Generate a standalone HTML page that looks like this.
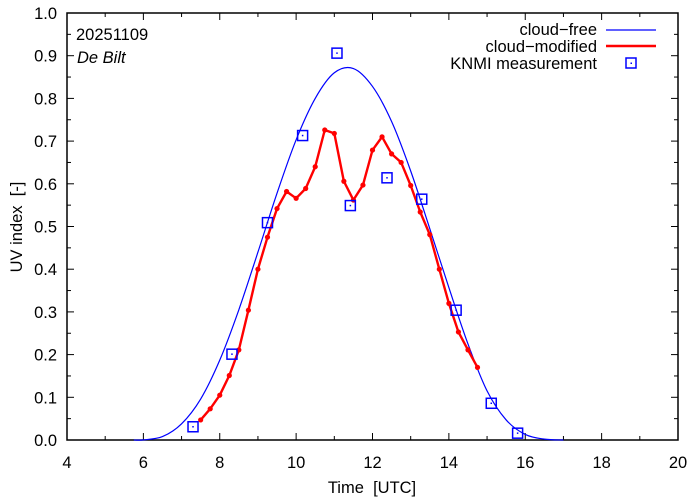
<!DOCTYPE html>
<html><head><meta charset="utf-8"><style>
body{margin:0;background:#fff}
svg{display:block;font-family:"Liberation Sans",Arial,sans-serif}
text{white-space:pre}
</style></head><body>
<svg id="chart" width="694" height="501" viewBox="0 0 694 501" xmlns="http://www.w3.org/2000/svg">
<rect width="694" height="501" fill="#fff"/>
<g id="axes"></g>
<g id="series"></g>
<text x="76" y="40" font-size="16.5">20251109</text>
<text x="77" y="63" font-size="16.5" font-style="italic">De Bilt</text>
<g font-size="16.5" text-anchor="end">
<text x="597" y="35">cloud−free</text>
<line x1="606" y1="30" x2="656" y2="30" stroke="#0000ff" stroke-width="1.2"/>
<text x="597" y="52">cloud−modified</text>
<line x1="606" y1="46" x2="656" y2="46" stroke="#ff0000" stroke-width="2.4"/>
<text x="597" y="69">KNMI measurement</text>
<rect x="626" y="58" width="10" height="10" fill="none" stroke="#0000ff" stroke-width="1.5"/>
<rect x="630.5" y="62.5" width="1.5" height="1.5" fill="#0000ff"/>
</g>
<text x="372" y="493" font-size="16.5" text-anchor="middle">Time  [UTC]</text>
<text transform="translate(22,227) rotate(-90)" font-size="16.5" text-anchor="middle">UV index  [-]</text>
</svg>
<script>
const xTicks=[4,6,8,10,12,14,16,18,20];
const yTicks=[0,0.1,0.2,0.3,0.4,0.5,0.6,0.7,0.8,0.9,1.0];
const clearTimes=[5.75,6,6.5,7,7.5,8,8.5,9,9.5,10,10.5,11,11.5,12,12.5,13,13.5,14,14.5,15,15.5,16,16.5,17];
const clearValues=[0,0.0003,0.008,0.038,0.096,0.187,0.305,0.44,0.578,0.703,0.80,0.86,0.87,0.828,0.746,0.63,0.495,0.357,0.225,0.115,0.047,0.013,0.002,0];
const cloudTimes=[7.5,7.75,8,8.25,8.5,8.75,9,9.25,9.5,9.75,10,10.25,10.5,10.75,11,11.25,11.5,11.75,12,12.25,12.5,12.75,13,13.25,13.5,13.75,14,14.25,14.5,14.75];
const cloudValues=[0.047,0.073,0.105,0.151,0.211,0.304,0.400,0.475,0.542,0.582,0.566,0.589,0.640,0.726,0.718,0.606,0.562,0.597,0.679,0.710,0.670,0.650,0.596,0.534,0.481,0.400,0.320,0.253,0.211,0.170];
const measTimes=[7.30,8.32,9.25,10.17,11.07,11.42,12.38,13.29,14.19,15.11,15.8];
const measValues=[0.031,0.201,0.509,0.713,0.906,0.549,0.614,0.564,0.304,0.086,0.016];

const X0=67,X1=678,Y0=440,Y1=13;
const sx=t=>X0+(t-4)/16*(X1-X0);
const sy=v=>Y0-v*(Y0-Y1);
const NS='http://www.w3.org/2000/svg';
function mk(tag,attrs,parent){const e=document.createElementNS(NS,tag);for(const k in attrs)e.setAttribute(k,attrs[k]);parent.appendChild(e);return e;}
const ax=document.getElementById('axes'),se=document.getElementById('series');
for(let h=4;h<=20;h++){const x=sx(h),L=(h%2==0)?7:4;
mk('line',{x1:x,y1:Y0,x2:x,y2:Y0-L,stroke:'#000','stroke-width':1},ax);
mk('line',{x1:x,y1:Y1,x2:x,y2:Y1+L,stroke:'#000','stroke-width':1},ax);}
xTicks.forEach(t=>{const e=mk('text',{x:sx(t),y:468,'font-size':16.5,'text-anchor':'middle'},ax);e.textContent=t;

});
for(let i=0;i<=20;i++){const y=sy(i*0.05),L=(i%2==0)?7:4;
mk('line',{x1:X0,y1:y,x2:X0+L,y2:y,stroke:'#000','stroke-width':1},ax);
mk('line',{x1:X1,y1:y,x2:X1-L,y2:y,stroke:'#000','stroke-width':1},ax);}
yTicks.forEach(v=>{const e=mk('text',{x:57,y:sy(v)+6,'font-size':16.5,'text-anchor':'end'},ax);e.textContent=v.toFixed(1);

});
const fr=mk('rect',{x:X0,y:Y1,width:X1-X0,height:Y0-Y1,fill:'none',stroke:'#000','stroke-width':1.5},ax);



const P=clearTimes.map((t,i)=>[sx(t),sy(clearValues[i])]);
let d='M'+P[0][0]+','+P[0][1];
for(let i=0;i<P.length-1;i++){const p0=P[Math.max(0,i-1)],p1=P[i],p2=P[i+1],p3=P[Math.min(P.length-1,i+2)];
d+=' C'+(p1[0]+(p2[0]-p0[0])/6)+','+(p1[1]+(p2[1]-p0[1])/6)+' '+(p2[0]-(p3[0]-p1[0])/6)+','+(p2[1]-(p3[1]-p1[1])/6)+' '+p2[0]+','+p2[1];}
const cf=mk('path',{d:d,fill:'none',stroke:'#0000ff','stroke-width':1.2},se);



const cm=mk('polyline',{points:cloudTimes.map((t,i)=>sx(t)+','+sy(cloudValues[i])).join(' '),fill:'none',stroke:'#ff0000','stroke-width':2.4,'stroke-linejoin':'round'},se);


cloudTimes.forEach((t,i)=>{const c=mk('circle',{cx:sx(t),cy:sy(cloudValues[i]),r:2.6,fill:'#ff0000'},se);

});
measTimes.forEach((t,i)=>{const x=sx(t),y=sy(measValues[i]);
const r=mk('rect',{x:x-5,y:y-5,width:10,height:10,fill:'none',stroke:'#0000ff','stroke-width':1.5},se);


mk('rect',{x:x-0.75,y:y-0.75,width:1.5,height:1.5,fill:'#0000ff'},se);});
</script>
</body></html>
